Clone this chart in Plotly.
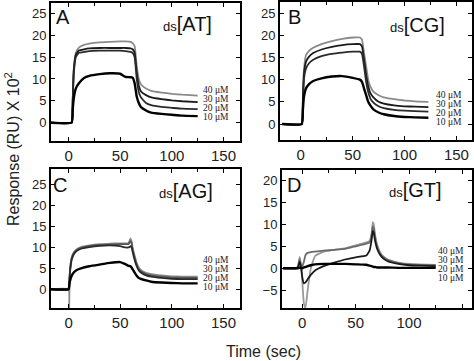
import plotly.graph_objects as go

W, H = 474, 361

# ---------------- data ----------------
conc_labels = ["40 μM", "30 μM", "20 μM", "10 μM"]

tA = [-18, 3, 4, 5, 7, 10, 15, 20, 30, 40, 50, 55, 60, 62, 64, 66, 68, 70, 75, 80, 90, 100, 110, 125]
A40 = [0, 0, 5, 12, 16, 17.2, 17.8, 18.1, 18.4, 18.5, 18.6, 18.6, 18.5, 18.2, 17.5, 13, 10, 8.8, 7.8, 7.3, 6.9, 6.6, 6.4, 6.2]
A30 = [0, 0, 5, 12, 15.5, 16.5, 16.8, 17, 17.1, 17.1, 17.1, 17.1, 17.0, 16.8, 16, 11.5, 8.5, 7.2, 6.3, 5.8, 5.4, 5.1, 4.9, 4.7]
A20 = [0, 0, 4.5, 11, 15, 16, 16.2, 16.4, 16.5, 16.5, 16.5, 16.4, 16.2, 16.0, 15, 10, 7, 5.8, 4.5, 4.0, 3.6, 3.4, 3.2, 3.1]
A10 = [0, 0, 3, 5.5, 7.8, 9.0, 10.2, 10.7, 11.1, 11.3, 11.2, 10.5, 10.4, 10.3, 9, 6, 4.5, 3.6, 2.8, 2.3, 2.0, 1.8, 1.6, 1.5]

tB = [-18, 1, 2, 3, 5, 8, 12, 20, 30, 40, 50, 57, 59, 61, 63, 65, 67, 70, 75, 80, 90, 100, 110, 123]
B40 = [0, 0, 6, 12, 15.5, 16.5, 17.2, 18.0, 18.7, 19.2, 19.5, 19.5, 19, 16, 13, 10, 8.5, 7.3, 6.5, 6.0, 5.6, 5.3, 5.1, 5.0]
B30 = [0, 0, 5, 11, 14, 15.2, 16, 16.8, 17.4, 17.8, 18.0, 18.0, 17.5, 14.5, 11, 8.5, 7, 6, 5.0, 4.6, 4.2, 4.0, 3.9, 3.8]
B20 = [0, 0, 4.5, 10, 12.5, 13.7, 14.5, 15.3, 15.8, 16.1, 16.3, 16.3, 15.8, 13, 9.5, 7.2, 5.8, 4.8, 4.0, 3.6, 3.2, 3.0, 2.9, 2.8]
B10 = [0, 0, 3, 6, 8, 9, 9.7, 10.3, 10.7, 10.8, 10.4, 10, 9.5, 8, 6.5, 5, 4.2, 3.3, 2.6, 2.2, 1.8, 1.6, 1.5, 1.4]

tC = [-18, 0, 0.5, 1, 2, 3, 5, 8, 12, 20, 30, 40, 50, 55, 58, 60, 61, 62, 64, 66, 68, 70, 75, 80, 90, 100, 110, 125]
C40 = [0, 0, -6, 2, 6, 7.5, 8.8, 9.6, 10.1, 10.5, 10.8, 10.9, 11.0, 11.0, 11.0, 12.2, 11.5, 10, 8, 6.3, 5.2, 4.6, 3.9, 3.6, 3.3, 3.1, 3.0, 3.0]
C30 = [0, 0, 1, 3, 6, 7.5, 8.6, 9.4, 9.9, 10.3, 10.6, 10.7, 10.8, 10.8, 10.8, 11.5, 11, 9.5, 7.5, 5.8, 4.8, 4.3, 3.6, 3.3, 3.0, 2.8, 2.7, 2.7]
C20 = [0, 0, 1, 3, 5.5, 7, 8.3, 9.2, 9.7, 10.1, 10.4, 10.5, 10.3, 10.0, 10.0, 10.3, 10, 9, 7, 5.5, 4.5, 4.0, 3.3, 3.0, 2.7, 2.5, 2.4, 2.4]
C10 = [0, 0, 0.5, 1.5, 2.5, 3.2, 4.0, 4.6, 5.0, 5.5, 5.9, 6.3, 6.5, 6.0, 5.6, 5.5, 5.2, 4.8, 4.0, 3.2, 2.7, 2.5, 2.1, 1.8, 1.6, 1.5, 1.4, 1.4]

tD = [-18, -6, -4, -2.5, -1, 0, 1.5, 3, 5, 8, 12, 20, 30, 40, 50, 60, 63, 65, 66, 67, 68, 70, 73, 76, 80, 90, 100, 110, 125]
D40 = [0, 0, 0.5, 2.6, 0.5, -3, -8, -9, -5, 0, 2.8, 3.8, 4.2, 4.5, 5.2, 5.9, 6.2, 8, 10.5, 10, 8, 5.5, 3.6, 2.7, 2.0, 1.3, 1.0, 0.9, 0.8]
D30 = [0, 0, 0.3, 2.0, 0.5, 0.5, 1.5, 3.0, 3.5, 3.7, 3.8, 4.0, 4.2, 4.4, 5.0, 5.6, 5.9, 7.5, 9.5, 9.0, 7.3, 5.0, 3.3, 2.5, 1.9, 1.2, 0.9, 0.8, 0.7]
D20 = [0, 0, 0.3, 1.5, 0, -2, -3.4, -3.2, -2.5, -1.5, -0.5, 0.5, 1.3, 2.0, 2.5, 2.9, 4, 6.5, 8.5, 8.0, 6.5, 4.5, 3.0, 2.2, 1.6, 1.0, 0.7, 0.6, 0.5]
D10 = [0, 0, 0, 0.2, 0, 0, 0.2, 0.3, 0.5, 0.7, 0.9, 1.0, 1.0, 1.0, 0.9, 0.8, 0.6, 0.5, 0.4, 0.3, 0.3, 0.2, 0.2, 0.2, 0.2, 0.1, 0.1, 0.1, 0.1]

panels = [
    dict(letter="A", name="AT", t=tA, ys=[A40, A30, A20, A10]),
    dict(letter="B", name="CG", t=tB, ys=[B40, B30, B20, B10]),
    dict(letter="C", name="AG", t=tC, ys=[C40, C30, C20, C10]),
    dict(letter="D", name="GT", t=tD, ys=[D40, D30, D20, D10]),
]

# ---------------- layout geometry (pixels) ----------------
boxes = [  # x0, x1, ytop, ybottom
    (51, 240, 3, 141),
    (280, 472, 2, 140),
    (51, 240, 169, 308),
    (282, 472, 170, 308),
]
xranges = [[-17, 166], [-20, 165], [-17, 166], [-19, 159]]
yranges = [[-4.2, 27.4], [-3.6, 27.5], [-4.5, 28.8], [-9, 22.3]]

panel_colors = [
    ["#8a8a8a", "#1a1a1a", "#2a2a2a", "#000000"],
    ["#8a8a8a", "#1a1a1a", "#2a2a2a", "#000000"],
    ["#8a8a8a", "#555555", "#2a2a2a", "#000000"],
    ["#9a9a9a", "#6a6a6a", "#1a1a1a", "#000000"],
]
widths = [1.8, 1.8, 1.8, 2.4]

def px(x, y):
    return x / W, 1 - y / H

fig = go.Figure()
layout = dict(width=W, height=H, margin=dict(l=0, r=0, t=0, b=0),
              paper_bgcolor="white", plot_bgcolor="white", showlegend=False,
              font=dict(family="Liberation Sans, Arial, sans-serif", color="#222"))
annotations = []

for i, p in enumerate(panels):
    n = "" if i == 0 else str(i + 1)
    xa, ya = "x" + n, "y" + n
    for k, yv in enumerate(p["ys"]):
        fig.add_trace(go.Scatter(x=p["t"], y=yv, mode="lines", xaxis=xa, yaxis=ya,
                                 line=dict(color=panel_colors[i][k], width=widths[k],
                                           shape="spline", smoothing=0.35),
                                 hoverinfo="skip"))
    x0, x1, yt, yb = boxes[i]
    common = dict(showgrid=False, zeroline=False, showline=True, linecolor="black", linewidth=2,
                  mirror="allticks", ticks="inside", ticklen=4, tickcolor="black", tickwidth=1.2)
    layout["xaxis" + n] = dict(domain=[x0 / W, x1 / W], anchor=ya, range=xranges[i],
                               tickvals=[0, 50, 100, 150], tickfont=dict(size=15, color="#222"),
                               minor=dict(tickvals=[25, 75, 125], ticks="inside", ticklen=3, tickcolor="black"),
                               **common)
    ytv = list(range(-5, 26, 5)) if p["letter"] == "D" else list(range(0, 26, 5))
    layout["yaxis" + n] = dict(domain=[1 - yb / H, 1 - yt / H], anchor=xa, range=yranges[i],
                               tickvals=ytv, tickfont=dict(size=13, color="#222"), ticklabelstandoff=0,
                               **common)

# panel letters and labels
letter_pos = [(63, 17), (294, 17), (60, 185), (294, 185)]
ds_pos = [(187, 24), (417, 25), (186, 191), (415, 190)]
conc_pos = [
    (202, [90, 99.3, 108.3, 117.3]),
    (435, [95, 103.5, 113, 122]),
    (202, [260, 269, 277.7, 287.3]),
    (437, [251, 259.5, 269, 278]),
]
for i, p in enumerate(panels):
    lx, ly = px(*letter_pos[i])
    annotations.append(dict(x=lx, y=ly, xref="paper", yref="paper", text=p["letter"],
                            showarrow=False, font=dict(size=20, color="#111"),
                            xanchor="center", yanchor="middle"))
    dx, dy = px(*ds_pos[i])
    annotations.append(dict(x=dx, y=dy, xref="paper", yref="paper",
                            text="ds<span style='font-size:20px'>[" + p["name"] + "]</span>",
                            showarrow=False, font=dict(size=13, color="#111"),
                            xanchor="center", yanchor="middle"))
    cx, cys = conc_pos[i]
    for lab, cy in zip(conc_labels, cys):
        ax_, ay_ = px(cx, cy)
        annotations.append(dict(x=ax_, y=ay_, xref="paper", yref="paper", text=lab,
                                showarrow=False, font=dict(size=9.5, color="#222",
                                                           family="Liberation Serif, Times New Roman, serif"),
                                xanchor="left", yanchor="middle", borderpad=0))

tx, ty = px(12, 149)
annotations.append(dict(x=tx, y=ty, xref="paper", yref="paper", text="Response (RU) X 10<sup>2</sup>",
                        textangle=-90, showarrow=False, font=dict(size=16, color="#222"),
                        xanchor="center", yanchor="middle"))
tx, ty = px(263, 351)
annotations.append(dict(x=tx, y=ty, xref="paper", yref="paper", text="Time (sec)",
                        showarrow=False, font=dict(size=16, color="#222"),
                        xanchor="center", yanchor="middle"))

layout["annotations"] = annotations
fig.update_layout(**layout)
fig.write_html("out.html", config={"displayModeBar": False},
               post_script="document.body.style.margin='0px';document.body.style.overflow='hidden';")
